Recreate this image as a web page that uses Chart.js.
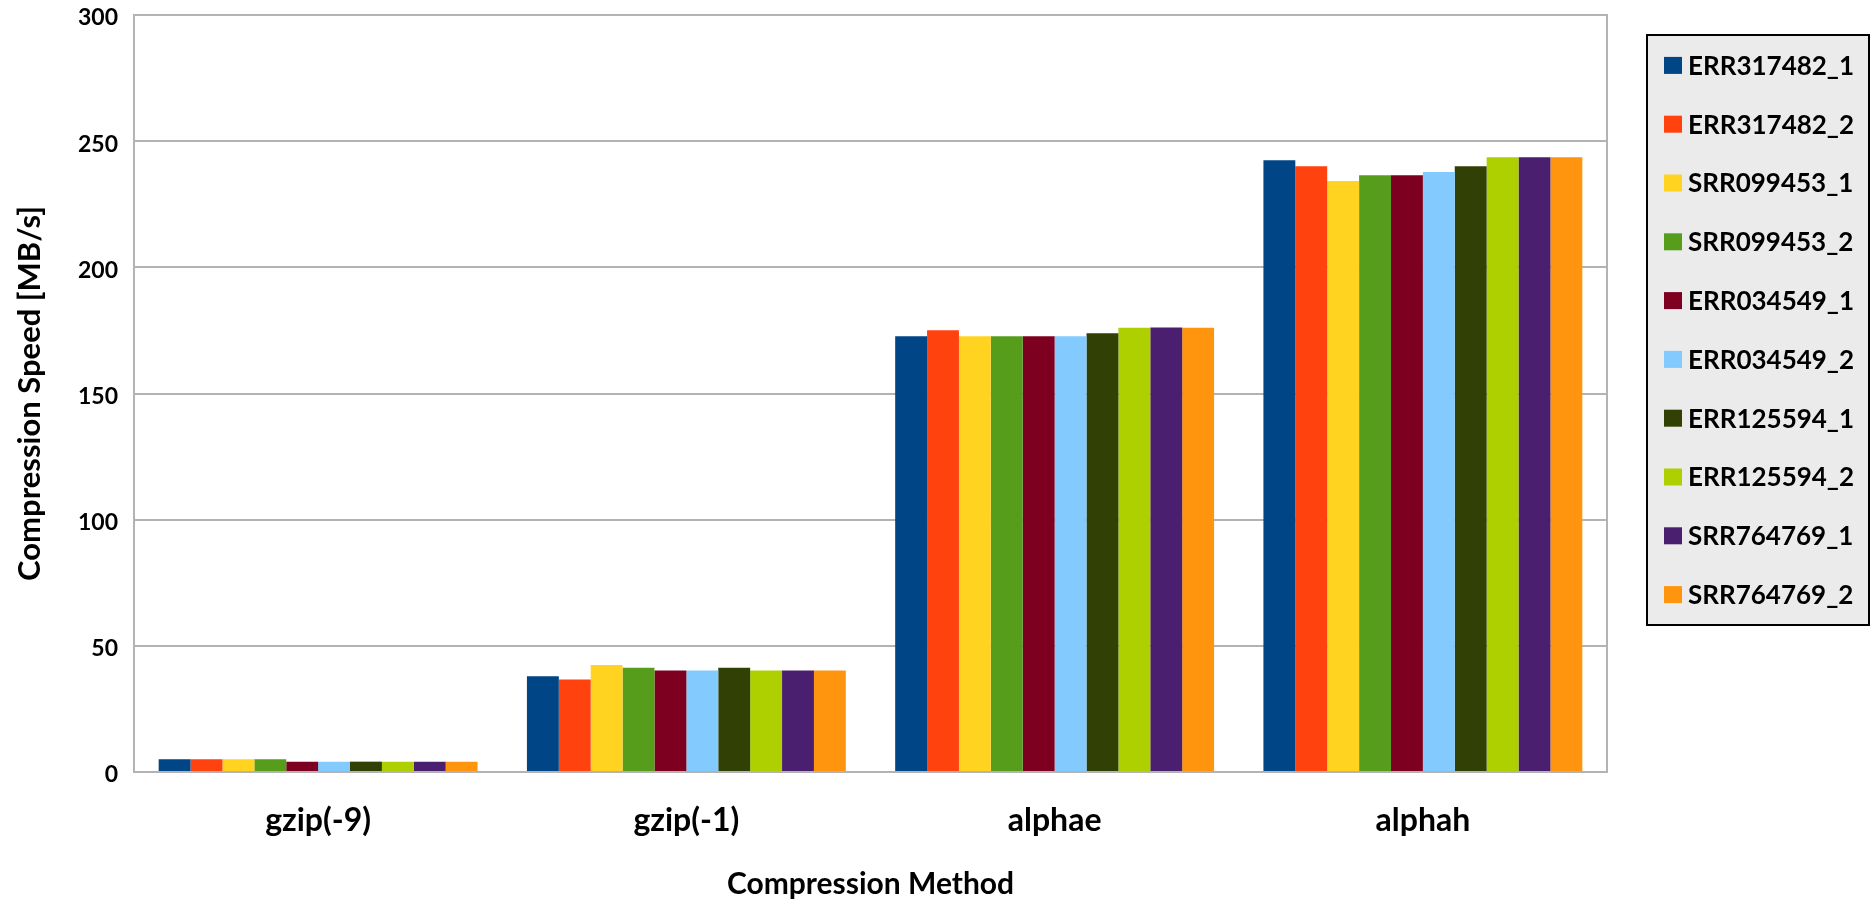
<!DOCTYPE html>
<html>
<head>
<meta charset="utf-8">
<title>Compression Speed by Method</title>
<script src="https://cdn.jsdelivr.net/npm/chart.js@4.4.1/dist/chart.umd.min.js"></script>
<style>
  html, body { margin: 0; padding: 0; background: #fff; }
  #wrap { width: 1870px; height: 902px; position: relative; }
</style>
</head>
<body>
<div id="wrap"><canvas id="speedChart"></canvas></div>
<script>
// --- Data ---
const methods = ['gzip(-9)', 'gzip(-1)', 'alphae', 'alphah'];
const runs = ['ERR317482_1', 'ERR317482_2', 'SRR099453_1', 'SRR099453_2', 'ERR034549_1',
              'ERR034549_2', 'ERR125594_1', 'ERR125594_2', 'SRR764769_1', 'SRR764769_2'];
const runColors = ['#004586', '#ff420e', '#ffd320', '#579d1c', '#7e0021',
                   '#83caff', '#314004', '#aecf00', '#4b1f6f', '#ff950e'];

// speed in MB/s, one value per run (same order as runs)
const speedGzip9  = [5.1, 5.1, 5.1, 5.1, 4.1, 4.1, 4.1, 4.1, 4.1, 4.1];
const speedGzip1  = [37.9, 36.7, 42.4, 41.3, 40.2, 40.2, 41.3, 40.2, 40.2, 40.2];
const speedAlphae = [172.7, 175.1, 172.7, 172.7, 172.7, 172.7, 173.9, 176.1, 176.2, 176.1];
const speedAlphah = [242.4, 240.1, 234.2, 236.5, 236.5, 237.8, 240.1, 243.6, 243.6, 243.6];

const yMin = 0, yMax = 300, yStep = 50;

const FONT = 'Lato, "Open Sans", sans-serif';
const GRID = '#b3b3b3';

document.addEventListener('DOMContentLoaded', () => {
    const byMethod = [speedGzip9, speedGzip1, speedAlphae, speedAlphah];

    const datasets = runs.map((run, i) => ({
        label: run,
        data: byMethod.map(list => list[i]),
        backgroundColor: runColors[i],
        borderWidth: 0,
        categoryPercentage: 0.866,
        barPercentage: 1.0
    }));

    // right edge of the plot frame (the library only draws the left axis line)
    const frameRight = {
        id: 'frameRight',
        afterDatasetsDraw(chart) {
            const { ctx, chartArea: a } = chart;
            ctx.save();
            ctx.strokeStyle = GRID;
            ctx.lineWidth = 2;
            ctx.beginPath();
            ctx.moveTo(a.right, a.top - 1);
            ctx.lineTo(a.right, a.bottom + 1);
            ctx.stroke();
            ctx.restore();
        }
    };

    // boxed legend with grey fill, as in the original spreadsheet chart
    const boxLegend = {
        id: 'boxLegend',
        afterDraw(chart) {
            const { ctx, chartArea: a } = chart;
            const left = a.right + 40, top = 35, bottom = 625, right = chart.width - 1;
            ctx.save();
            ctx.fillStyle = '#ebebeb';
            ctx.fillRect(left, top, right - left, bottom - top);
            ctx.strokeStyle = '#000';
            ctx.lineWidth = 2;
            ctx.strokeRect(left, top, right - left, bottom - top);

            ctx.font = 'bold 26px ' + FONT;
            ctx.textBaseline = 'middle';
            ctx.textAlign = 'left';
            chart.data.datasets.forEach((ds, i) => {
                const y = 65.4 + i * 58.8;
                ctx.fillStyle = ds.backgroundColor;
                ctx.fillRect(left + 17, y - 8.5, 18, 17);
                ctx.fillStyle = '#000';
                ctx.fillText(ds.label, left + 41, y + 1);
            });
            ctx.restore();
        }
    };

    const ctx = document.getElementById('speedChart').getContext('2d');
    new Chart(ctx, {
        type: 'bar',
        data: { labels: methods, datasets },
        options: {
            responsive: true,
            maintainAspectRatio: false,
            animation: false,
            layout: { padding: { top: 15, right: 263, left: 0, bottom: 0 } },
            plugins: {
                legend: { display: false },
                tooltip: { enabled: false }
            },
            scales: {
                x: {
                    grid: { display: false, drawTicks: false },
                    border: { display: true, color: GRID, width: 2 },
                    ticks: {
                        color: '#000',
                        padding: 29,
                        font: { family: FONT, size: 32, weight: 'bold' }
                    },
                    title: {
                        display: true,
                        text: 'Compression Method',
                        color: '#000',
                        padding: { top: 0, bottom: 0 },
                        font: { family: FONT, size: 30, weight: 'bold' }
                    },
                    afterFit: (scale) => { scale.height = 130; }
                },
                y: {
                    min: yMin,
                    max: yMax,
                    grid: { color: GRID, lineWidth: 2, drawTicks: false },
                    border: { display: true, color: GRID, width: 2 },
                    ticks: {
                        stepSize: yStep,
                        color: '#000',
                        padding: 16,
                        labelOffset: 3,
                        font: { family: FONT, size: 23, weight: 'bold' }
                    },
                    title: {
                        display: true,
                        text: 'Compression Speed [MB/s]',
                        color: '#000',
                        padding: { top: 11, bottom: 0 },
                        font: { family: FONT, size: 31, weight: 'bold' }
                    },
                    afterFit: (scale) => {
                        scale.width = 134;
                        scale.paddingTop = 0;
                        scale.paddingBottom = 0;
                    }
                }
            }
        },
        plugins: [frameRight, boxLegend]
    });

    window.onerror = function(message, source, lineno) {
        console.log('Global Error:', message, 'at', source + ':' + lineno);
    };
});
</script>
</body>
</html>
